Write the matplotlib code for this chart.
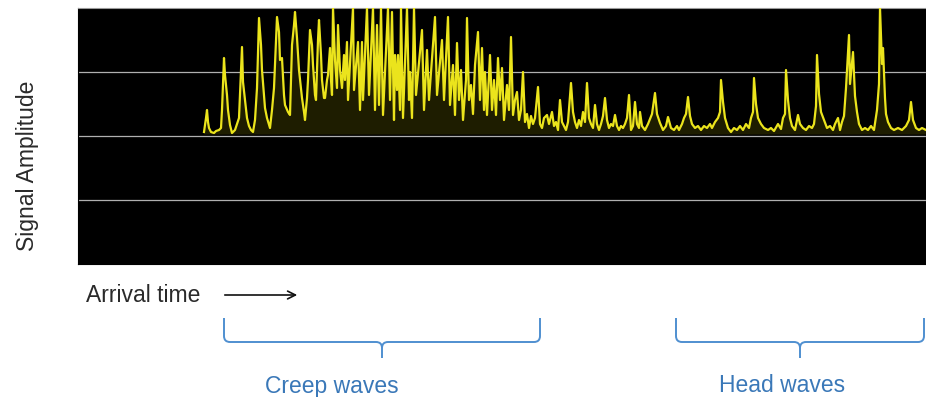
import matplotlib
matplotlib.use("Agg")
import matplotlib.pyplot as plt
from matplotlib.path import Path
from matplotlib.patches import PathPatch

plt.rcParams['font.family'] = ['Liberation Sans', 'DejaVu Sans']

# arrival time (arbitrary units) and signal amplitude (ADC counts, 0-256)
arrival = [
    126, 128, 129, 130, 131, 133, 136, 138, 141, 143, 144, 146, 147, 149, 150, 152, 154, 157, 159, 161,
    162, 164, 165, 167, 169, 171, 173, 175, 177, 179, 181, 183, 184, 186, 187, 189, 192, 194, 196, 198,
    199, 201, 202, 204, 206, 207, 210, 212, 213, 214, 216, 217, 219, 221, 224, 226, 227, 229, 230, 232,
    234, 235, 237, 238, 240, 241, 243, 244, 246, 247, 249, 250, 252, 253, 254, 255, 257, 259, 260, 262,
    264, 266, 267, 269, 270, 275, 276, 280, 282, 284, 285, 289, 291, 295, 297, 299, 301, 303, 305, 310,
    312, 314, 316, 317, 319, 320, 322, 323, 325, 329, 331, 332, 334, 336, 338, 344, 346, 349, 351, 357,
    359, 364, 366, 370, 372, 375, 377, 379, 381, 383, 385, 388, 389, 391, 393, 395, 397, 400, 402, 404,
    406, 407, 409, 412, 414, 416, 418, 420, 422, 424, 426, 429, 431, 433, 435, 437, 439, 441, 443, 445,
    447, 449, 451, 453, 455, 457, 460, 462, 464, 466, 469, 471, 474, 476, 478, 480, 482, 484, 486, 488,
    490, 493, 495, 497, 499, 501, 503, 505, 507, 509, 511, 513, 515, 517, 519, 521, 523, 525, 527, 529,
    531, 533, 535, 537, 539, 541, 543, 545, 547, 549, 551, 553, 555, 557, 559, 561, 562, 564, 567, 570,
    572, 574, 577, 579, 582, 585, 588, 590, 593, 596, 599, 601, 604, 606, 608, 610, 612, 614, 617, 620,
    623, 626, 629, 632, 634, 637, 640, 642, 643, 645, 647, 650, 653, 656, 659, 662, 665, 668, 671, 673,
    675, 676, 678, 680, 683, 686, 690, 693, 696, 700, 703, 705, 707, 708, 710, 712, 714, 717, 720, 722,
    725, 728, 731, 734, 736, 738, 739, 741, 743, 746, 749, 752, 755, 757, 760, 762, 764, 766, 768, 771,
    772, 775, 777, 779, 781, 784, 787, 790, 793, 796, 799, 801, 802, 804, 805, 807, 808, 810, 813, 816,
    820, 824, 828, 831, 833, 835, 838, 841, 844, 848,
]
amplitude = [
    132, 146, 154, 142, 136, 132, 131, 133, 134, 136, 154, 206, 189, 169, 154, 139, 131, 134, 140, 146,
    169, 217, 182, 164, 146, 138, 134, 132, 144, 176, 246, 219, 194, 169, 156, 146, 136, 154, 176, 224,
    247, 232, 204, 206, 169, 159, 152, 149, 184, 219, 239, 252, 226, 194, 166, 152, 144, 166, 184, 234,
    219, 199, 169, 164, 224, 244, 209, 184, 166, 166, 184, 189, 216, 184, 169, 256, 204, 176, 239, 194,
    176, 209, 184, 222, 164, 256, 174, 222, 154, 222, 164, 256, 169, 256, 154, 239, 159, 256, 149, 256,
    164, 252, 144, 209, 174, 209, 154, 256, 146, 256, 164, 192, 146, 256, 169, 234, 154, 214, 164, 247,
    169, 224, 164, 247, 159, 199, 149, 221, 164, 194, 144, 184, 246, 164, 179, 150, 199, 232, 164, 216,
    154, 192, 149, 209, 154, 184, 149, 206, 164, 196, 144, 179, 154, 227, 149, 164, 172, 144, 154, 192,
    142, 150, 136, 148, 140, 146, 177, 140, 136, 146, 149, 140, 152, 138, 142, 134, 164, 142, 138, 134,
    142, 181, 152, 142, 136, 144, 138, 152, 142, 181, 146, 140, 136, 159, 140, 134, 140, 148, 166, 144,
    136, 140, 138, 149, 138, 134, 138, 136, 140, 146, 169, 134, 138, 162, 140, 136, 152, 138, 134, 140,
    145, 150, 171, 150, 141, 134, 138, 147, 136, 134, 138, 134, 140, 146, 150, 167, 148, 140, 136, 138,
    134, 138, 136, 140, 136, 142, 146, 152, 184, 162, 146, 136, 132, 136, 134, 138, 134, 140, 136, 146,
    152, 186, 160, 146, 140, 136, 134, 136, 133, 140, 135, 146, 150, 194, 164, 146, 138, 134, 149, 140,
    136, 134, 138, 136, 140, 158, 209, 170, 152, 144, 136, 138, 134, 140, 146, 134, 142, 148, 176, 229,
    180, 212, 168, 152, 140, 134, 136, 134, 138, 134, 154, 180, 256, 200, 216, 166, 150, 142, 136, 134,
    136, 134, 138, 144, 162, 144, 136, 134, 136, 134,
]
grid_levels = [64, 128, 192]

fig = plt.figure(figsize=(9.26, 3.97), dpi=100)

ax = fig.add_axes([78 / 926, 133 / 397, 848 / 926, 256 / 397])
ax.set_facecolor('black')
for g in grid_levels:
    ax.axhline(g, color='#b0b0b0', lw=0.9, zorder=1)
ax.fill_between(arrival, 130, amplitude, color='#1e1d00', lw=0, zorder=2)
ax.plot(arrival, amplitude, color='#ebe41c', lw=1.6, zorder=3)
ax.set_xlim(0, 848)
ax.set_ylim(0, 256)
ax.set_xticks([])
ax.set_yticks([])
for s in ax.spines.values():
    s.set_color('black')
ax.spines['top'].set_color('#9a9a9a')

# overlay for the annotations (pixel coordinates)
ov = fig.add_axes([0, 0, 1, 1], zorder=5)
ov.set_xlim(0, 926)
ov.set_ylim(397, 0)
ov.axis('off')
ov.patch.set_visible(False)

ov.text(28, 166, 'Signal Amplitude', rotation=90, ha='center', va='center',
        fontsize=16.5, color='#2a2a2a')
ov.text(86, 296, 'Arrival time', ha='left', va='center', fontsize=16.5, color='#2a2a2a')
ov.annotate('', xy=(300, 295), xytext=(222, 295),
            arrowprops=dict(arrowstyle='->', color='#111111', lw=1.2, mutation_scale=14))

blue = '#4f8fd0'


def brace(x0, x1, ytop=318, ybar=342, ytip=358):
    xm = (x0 + x1) / 2
    r = 6
    verts = [
        (x0, ytop), (x0, ybar - r), (x0, ybar), (x0 + r, ybar),
        (xm - r, ybar), (xm, ybar), (xm, ybar + r),
        (xm, ytip),
    ]
    codes = [Path.MOVETO, Path.LINETO, Path.CURVE3, Path.CURVE3,
             Path.LINETO, Path.CURVE3, Path.CURVE3, Path.LINETO]
    verts2 = [
        (x1, ytop), (x1, ybar - r), (x1, ybar), (x1 - r, ybar),
        (xm + r, ybar), (xm, ybar), (xm, ybar + r),
    ]
    codes2 = [Path.MOVETO, Path.LINETO, Path.CURVE3, Path.CURVE3,
              Path.LINETO, Path.CURVE3, Path.CURVE3]
    for v, c in [(verts, codes), (verts2, codes2)]:
        ov.add_patch(PathPatch(Path(v, c), facecolor='none', edgecolor=blue, lw=1.4))


brace(224, 540)
brace(676, 924)
ov.text(332, 386, 'Creep waves', ha='center', va='center', fontsize=16.5, color='#3a78b8')
ov.text(782, 386, 'Head waves', ha='center', va='center', fontsize=16.5, color='#3a78b8')

fig.savefig('out.png', dpi=100, facecolor='white')
